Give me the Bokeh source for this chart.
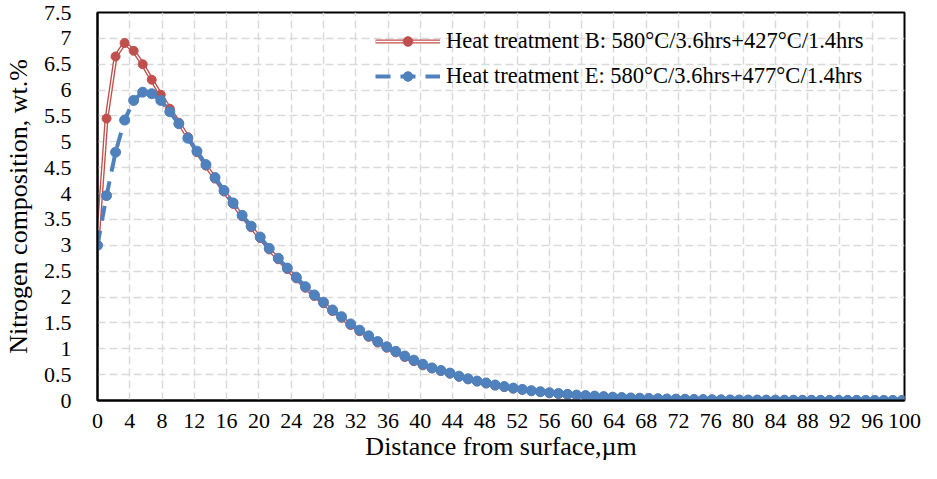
from bokeh.plotting import figure
from bokeh.models import Range1d, FixedTicker, CustomJSTickFormatter, Legend, LegendItem, ColumnDataSource
from bokeh.embed import file_html
from bokeh.resources import INLINE

distance_um = [0, 1.12, 2.24, 3.36, 4.48, 5.6, 6.72, 7.84, 8.96, 10.08, 11.2, 12.32, 13.44, 14.56, 15.68,
               16.8, 17.92, 19.04, 20.16, 21.28, 22.4, 23.52, 24.64, 25.76, 26.88, 28.0, 29.12, 30.24, 31.36,
               32.48, 33.6, 34.72, 35.84, 36.96, 38.08, 39.2, 40.32, 41.44, 42.56, 43.68, 44.8, 45.92, 47.04,
               48.16, 49.28, 50.4, 51.52, 52.64, 53.76, 54.88, 56.0, 57.12, 58.24, 59.36, 60.48, 61.6, 62.72,
               63.84, 64.96, 66.08, 67.2, 68.32, 69.44, 70.56, 71.68, 72.8, 73.92, 75.04, 76.16, 77.28, 78.4,
               79.52, 80.64, 81.76, 82.88, 84.0, 85.12, 86.24, 87.36, 88.48, 89.6, 90.72, 91.84, 92.96, 94.08,
               95.2, 96.32, 97.44, 98.56, 99.68]

treatment_b = [3.0, 5.45, 6.65, 6.91, 6.76, 6.50, 6.20, 5.91, 5.64, 5.37, 5.09,
               4.80, 4.54, 4.29, 4.04, 3.80, 3.56, 3.35, 3.14, 2.92, 2.73,
               2.54, 2.36, 2.18, 2.02, 1.88, 1.73, 1.60, 1.46, 1.34, 1.23,
               1.12, 1.02, 0.93, 0.84, 0.76, 0.68, 0.62, 0.57, 0.52, 0.46,
               0.41, 0.37, 0.33, 0.29, 0.26, 0.23, 0.21, 0.18, 0.165, 0.145,
               0.13, 0.115, 0.10, 0.09, 0.08, 0.07, 0.062, 0.055, 0.048, 0.043,
               0.038, 0.033, 0.029, 0.026, 0.023, 0.02, 0.017, 0.015, 0.013, 0.011,
               0.010, 0.009, 0.008, 0.007, 0.006, 0.005, 0.005, 0.004, 0.004, 0.003,
               0.003, 0.003, 0.002, 0.002, 0.002, 0.001, 0.001, 0.001, 0.001]

treatment_e = [3.0, 3.96, 4.80, 5.42, 5.80, 5.96, 5.93, 5.80, 5.58, 5.35,
               5.07, 4.82, 4.56, 4.31, 4.06, 3.82, 3.58, 3.37, 3.16, 2.94,
               2.75, 2.56, 2.38, 2.20, 2.04, 1.90, 1.75, 1.62, 1.48, 1.36,
               1.25, 1.14, 1.04, 0.95, 0.86, 0.78, 0.70, 0.63, 0.58, 0.53,
               0.47, 0.42, 0.375, 0.34, 0.30, 0.27, 0.24, 0.215, 0.19, 0.17,
               0.15, 0.135, 0.12, 0.105, 0.095, 0.085, 0.075, 0.065, 0.058, 0.05,
               0.045, 0.04, 0.035, 0.03, 0.027, 0.024, 0.021, 0.018, 0.016, 0.014,
               0.012, 0.011, 0.010, 0.009, 0.008, 0.007, 0.006, 0.006, 0.005, 0.005,
               0.004, 0.004, 0.003, 0.003, 0.003, 0.002, 0.002, 0.002, 0.002, 0.001]

x_ticks = list(range(0, 101, 4))
y_ticks = [i * 0.5 for i in range(16)]

label_b = "Heat treatment B: 580°C/3.6hrs+427°C/1.4hrs"
label_e = "Heat treatment E: 580°C/3.6hrs+477°C/1.4hrs"
x_title = "Distance from surface,µm"
y_title = "Nitrogen composition, wt.%"

RED = "#C0504D"
BLUE = "#4F81BD"
FONT = "Liberation Serif"

src = ColumnDataSource(dict(x=distance_um, b=treatment_b, e=treatment_e))

p = figure(width=921, height=463, output_backend="svg", toolbar_location=None,
           x_range=Range1d(0, 100), y_range=Range1d(0, 7.5),
           min_border_left=88, min_border_right=17, min_border_top=12, min_border_bottom=40)
p.outline_line_color = "black"
p.outline_line_width = 2
p.background_fill_color = "white"
p.border_fill_color = "white"

for g in (p.xgrid, p.ygrid):
    g.grid_line_color = "#D9D9D9"
    g.grid_line_width = 1.5
    g.grid_line_dash = "8 4"

p.xaxis.ticker = FixedTicker(ticks=x_ticks)
p.yaxis.ticker = FixedTicker(ticks=y_ticks)
p.yaxis.formatter = CustomJSTickFormatter(code="return String(Math.round(tick*10)/10);")

for ax in (p.xaxis, p.yaxis):
    ax.axis_line_color = "black"
    ax.axis_line_width = 2
    ax.major_tick_line_color = None
    ax.minor_tick_line_color = None
    ax.major_label_text_font = FONT
    ax.major_label_text_font_size = "22px"
    ax.major_label_text_color = "black"
    ax.axis_label_text_font = FONT
    ax.axis_label_text_font_size = "26px"
    ax.axis_label_text_font_style = "normal"
    ax.axis_label_text_color = "black"

p.xaxis.axis_label = x_title
p.yaxis.axis_label = y_title
p.xaxis.major_label_standoff = 7
p.xaxis.axis_label_standoff = 1
p.yaxis.major_label_standoff = 20
p.yaxis.axis_label_standoff = 8

rb1 = p.line("x", "b", source=src, line_color=RED, line_width=4)
rb2 = p.line("x", "b", source=src, line_color="white", line_width=1.3)
rb3 = p.scatter("x", "b", source=src, size=9, fill_color=RED, line_color=RED)

re1 = p.line("x", "e", source=src, line_color=BLUE, line_width=4, line_dash="15 10")
re2 = p.scatter("x", "e", source=src, size=10, fill_color=BLUE, line_color=BLUE)

legend = Legend(items=[LegendItem(label=label_b, renderers=[rb1, rb2, rb3]),
                       LegendItem(label=label_e, renderers=[re1, re2])],
                location=(278, 311))
legend.background_fill_alpha = 0
legend.border_line_color = None
legend.label_text_font = FONT
legend.label_text_font_size = "22.5px"
legend.label_text_color = "black"
legend.glyph_width = 65
legend.glyph_height = 24
legend.label_height = 24
legend.label_standoff = 6
legend.spacing = 9
legend.padding = 4
p.add_layout(legend)

open("out.html", "w").write(file_html(p, INLINE))
